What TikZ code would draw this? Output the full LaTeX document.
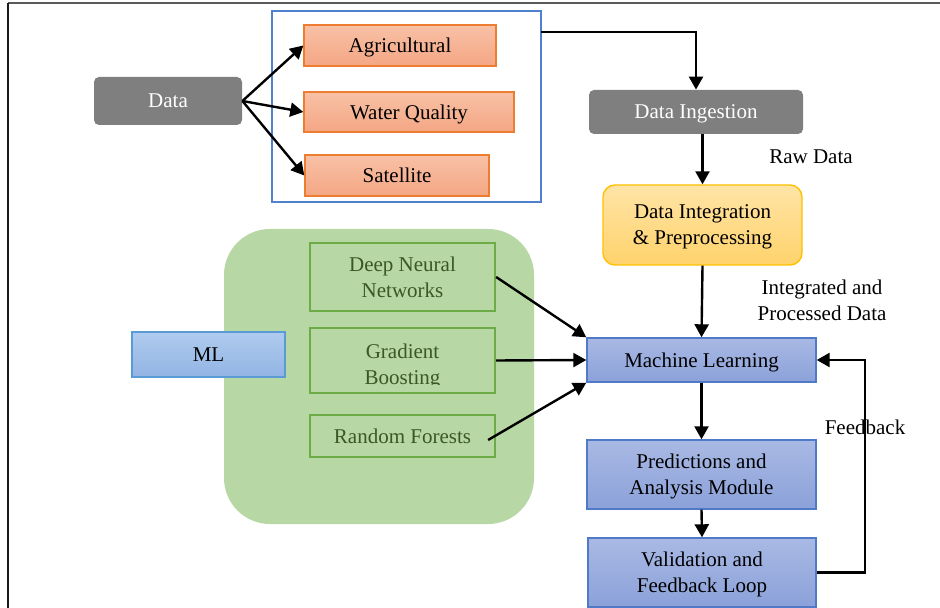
\documentclass[tikz,border=0pt]{standalone}
\usepackage{fontspec}
\setmainfont{Liberation Serif}
\usetikzlibrary{arrows.meta,calc}
\definecolor{grayfill}{HTML}{7F7F7F}
\definecolor{orTop}{HTML}{F8C1A6}
\definecolor{orBot}{HTML}{F4A684}
\definecolor{orBorder}{HTML}{ED7D31}
\definecolor{frameBlue}{HTML}{4F81D0}
\definecolor{ylTop}{HTML}{FFE4A6}
\definecolor{ylBot}{HTML}{FFD36C}
\definecolor{ylBorder}{HTML}{FFC000}
\definecolor{grnBg}{HTML}{B7D7A4}
\definecolor{grnBorder}{HTML}{6DAB47}
\definecolor{grnText}{HTML}{3A5726}
\definecolor{blTop}{HTML}{A9B9E4}
\definecolor{blBot}{HTML}{8BA1D9}
\definecolor{blBorder}{HTML}{5079C8}
\definecolor{lbTop}{HTML}{AFCBEE}
\definecolor{lbBot}{HTML}{92B4E4}
\definecolor{lbBorder}{HTML}{5B9BD5}
\tikzset{
  txt/.style={font=\fontsize{10.5}{13}\selectfont, align=center, inner sep=0pt, text depth=0pt},
  graybox/.style={txt, fill=grayfill, text=white, rounded corners=2.5pt},
  orbox/.style={txt, draw=orBorder, line width=0.7pt, top color=orTop, bottom color=orBot},
  ylbox/.style={txt, draw=ylBorder, line width=0.7pt, top color=ylTop, bottom color=ylBot, rounded corners=6pt},
  blbox/.style={txt, draw=blBorder, line width=0.7pt, top color=blTop, bottom color=blBot},
  lbbox/.style={txt, draw=lbBorder, line width=0.7pt, top color=lbTop, bottom color=lbBot},
  gnbox/.style={txt, draw=grnBorder, line width=1.1pt, text=grnText},
  arr/.style={line width=1.2pt, -{Triangle[length=6.5pt,width=7pt]}},
}
\begin{document}
\begin{tikzpicture}[x=0.5pt,y=-0.5pt]
\useasboundingbox (0,0) rectangle (940,608);
% outer frame
\draw[line width=1pt, color=black!65] (8,3) -- (940,3);
\draw[line width=1pt, color=black!90] (8,3) -- (8,608);

% data sources
\node[graybox, minimum width=74pt, minimum height=24pt] (data) at (168,101) {Data};
\node[draw=frameBlue, line width=0.75pt, minimum width=134.5pt, minimum height=95.5pt, inner sep=0pt] (grp) at (406.5,106.5) {};
\node[orbox, minimum width=96pt, minimum height=20.5pt] (agri) at (400,45.5) {Agricultural};
\node[orbox, minimum width=105pt, minimum height=20pt] (water) at (409,112) {Water Quality};
\node[orbox, minimum width=92pt, minimum height=20.5pt] (sat) at (397,175.5) {Satellite};

\draw[arr] (data.east) -- (agri.west);
\draw[arr] (data.east) -- (water.west);
\draw[arr] (data.east) -- (sat.west);

% main chain
\node[graybox, minimum width=107pt, minimum height=22pt] (ingest) at (696,112) {Data Ingestion};
\node[ylbox, minimum width=99.5pt, minimum height=40pt] (integ) at (702.5,225) {Data Integration\\\& Preprocessing};
\node[blbox, minimum width=114.5pt, minimum height=22pt] (ml) at (701.5,360) {Machine Learning};
\node[blbox, minimum width=114.5pt, minimum height=34.5pt] (pred) at (701.5,474.5) {Predictions and\\Analysis Module};
\node[blbox, minimum width=114pt, minimum height=34.5pt] (valid) at (702,572.5) {Validation and\\Feedback Loop};

\coordinate (gout) at (541,32);
\draw[arr] (gout) -| (ingest.north);
\draw[arr] (integ.north |- ingest.south) -- (integ.north);
\draw[arr] (integ.south) -- (ml.north);
\draw[arr] (ml.south) -- (pred.north);
\draw[arr] (pred.south) -- (valid.north);
\draw[arr] (valid.east) -- ++(48,0) |- (ml.east);

\node[txt] (raw) at (811,157) {Raw Data};
\node[txt] (intlab) at (822,300.5) {Integrated and\\Processed Data};
\node[txt] (fb) at (865,427) {Feedback};

% ML group
\node[fill=grnBg, rounded corners=23pt, minimum width=155pt, minimum height=147.5pt, inner sep=0pt] (mlgrp) at (379,376.5) {};
\node[lbbox, minimum width=76.5pt, minimum height=22.5pt] (mlsmall) at (208.5,354.5) {ML};
\node[gnbox, minimum width=92.5pt, minimum height=34pt] (dnn) at (402.5,277) {Deep Neural\\Networks};
\node[gnbox, minimum width=92.5pt, minimum height=32.5pt] (gb) at (402.5,360.5) {};
\begin{scope}
\clip (310,328) rectangle (495,384);
\node[txt, text=grnText] (gbtext) at (402.5,364) {Gradient\\Boosting};
\end{scope}
\node[gnbox, minimum width=92.5pt, minimum height=21pt] (rf) at (402.5,436) {Random Forests};

\draw[arr] (dnn.east) -- (ml.north west);
\draw[arr] (gb.east) -- (ml.west);
\draw[arr] ([shift={(-8,4)}]rf.east) -- (ml.south west);
\end{tikzpicture}
\end{document}
